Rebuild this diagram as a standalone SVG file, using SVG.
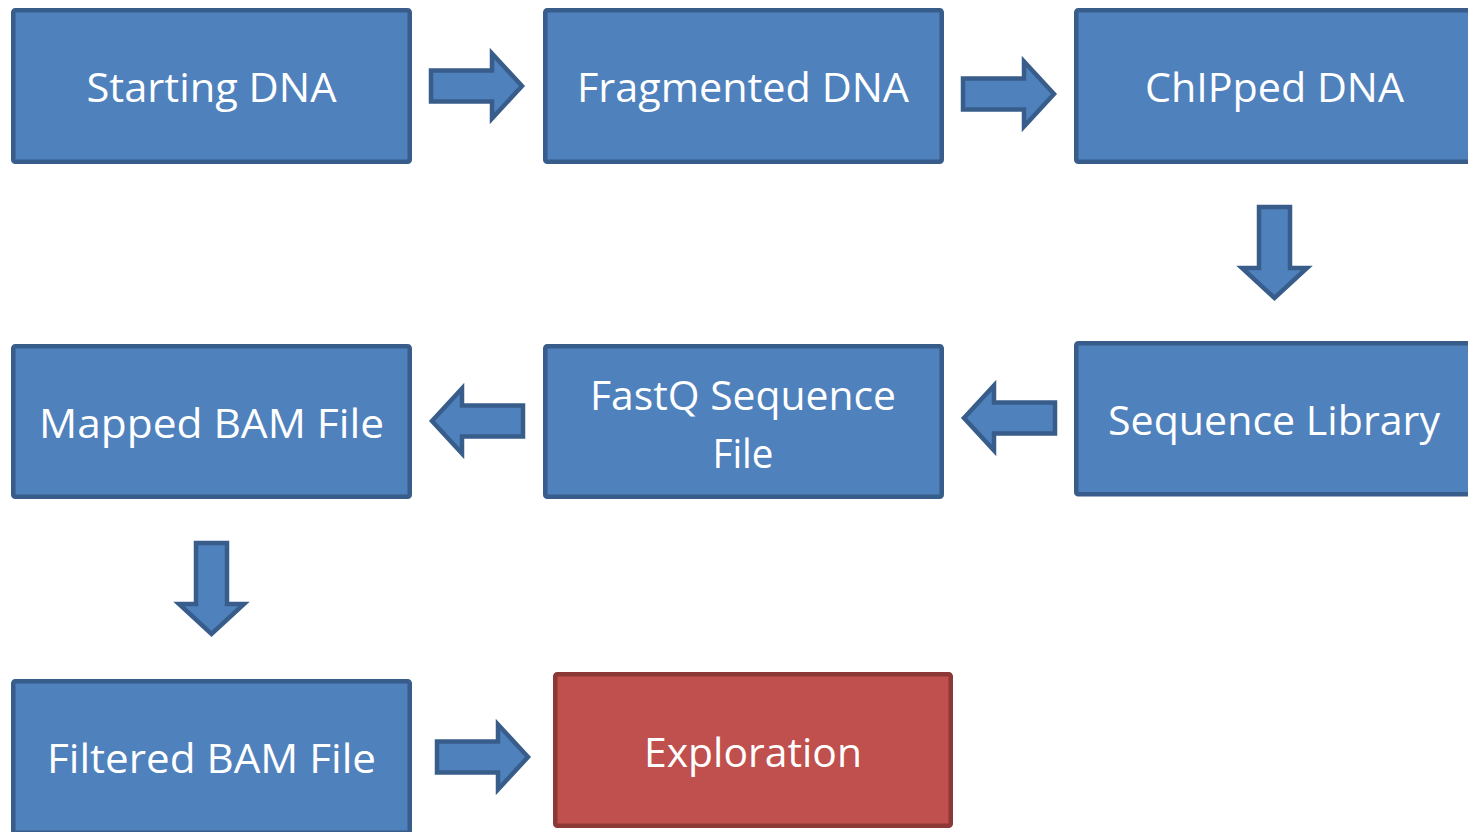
<svg xmlns="http://www.w3.org/2000/svg" xmlns:xlink="http://www.w3.org/1999/xlink" width="1468" height="832" viewBox="0 0 1468 832">
  <style>
    .box { fill: #4F81BD; stroke: #385D8A; stroke-width: 4.5; }
    .box-red { fill: #C0504D; stroke: #8C3836; stroke-width: 4.5; }
    .label { font-family: "Open Sans", "Noto Sans", "Liberation Sans", sans-serif; font-size: 41px; fill: #FFFFFF; text-anchor: middle; }
    .arrow { fill: #4F81BD; stroke: #385D8A; stroke-width: 4.5; stroke-linejoin: miter; }
  </style>
  <defs>
    <!-- block arrow pointing right; origin at the tail, centred on the shaft -->
    <path id="block-arrow" d="M0,-15.5 H61 V-32.5 L91,0 L61,32.5 V15.5 H0 Z"/>
  </defs>

  <rect x="0" y="0" width="1468" height="832" fill="#FFFFFF"/>

  <!-- connectors -->
  <g id="connectors" class="arrow">
    <use xlink:href="#block-arrow" transform="translate(431,86)"/>
    <use xlink:href="#block-arrow" transform="translate(963,94)"/>
    <use xlink:href="#block-arrow" transform="translate(1274.5,207) rotate(90)"/>
    <use xlink:href="#block-arrow" transform="translate(1055,418) scale(-1,1)"/>
    <use xlink:href="#block-arrow" transform="translate(523,421) scale(-1,1)"/>
    <use xlink:href="#block-arrow" transform="translate(211.5,543) rotate(90)"/>
    <use xlink:href="#block-arrow" transform="translate(437,757)"/>
  </g>

  <!-- nodes -->
  <g id="starting-dna">
    <rect class="box" x="13.25" y="10.25" width="396.5" height="151.5" rx="2"/>
    <text class="label" x="211.5" y="101.5" textLength="250" lengthAdjust="spacingAndGlyphs">Starting DNA</text>
  </g>
  <g id="fragmented-dna">
    <rect class="box" x="545.25" y="10.25" width="396.5" height="151.5" rx="2"/>
    <text class="label" x="743" y="101.5" textLength="332" lengthAdjust="spacingAndGlyphs">Fragmented DNA</text>
  </g>
  <g id="chipped-dna">
    <rect class="box" x="1076.25" y="10.25" width="396.5" height="151.5" rx="2"/>
    <text class="label" x="1274.5" y="101.5" textLength="259" lengthAdjust="spacingAndGlyphs">ChIPped DNA</text>
  </g>
  <g id="sequence-library">
    <rect class="box" x="1076.25" y="343.25" width="396.5" height="151" rx="2"/>
    <text class="label" x="1274" y="434.5" textLength="332" lengthAdjust="spacingAndGlyphs">Sequence Library</text>
  </g>
  <g id="fastq-sequence-file">
    <rect class="box" x="545.25" y="346.25" width="396.5" height="150.5" rx="2"/>
    <text class="label" x="743" y="409.5" textLength="306" lengthAdjust="spacingAndGlyphs">FastQ Sequence</text>
    <text class="label" x="743" y="467.5" textLength="61" lengthAdjust="spacingAndGlyphs">File</text>
  </g>
  <g id="mapped-bam-file">
    <rect class="box" x="13.25" y="346.25" width="396.5" height="150.5" rx="2"/>
    <text class="label" x="211.5" y="437.5" textLength="345" lengthAdjust="spacingAndGlyphs">Mapped BAM File</text>
  </g>
  <g id="filtered-bam-file">
    <rect class="box" x="13.25" y="681.25" width="396.5" height="151.5" rx="2"/>
    <text class="label" x="211.5" y="772.5" textLength="329" lengthAdjust="spacingAndGlyphs">Filtered BAM File</text>
  </g>
  <g id="exploration">
    <rect class="box-red" x="555.25" y="674.25" width="395.5" height="151.5" rx="2"/>
    <text class="label" x="753" y="767" textLength="218" lengthAdjust="spacingAndGlyphs">Exploration</text>
  </g>
</svg>
